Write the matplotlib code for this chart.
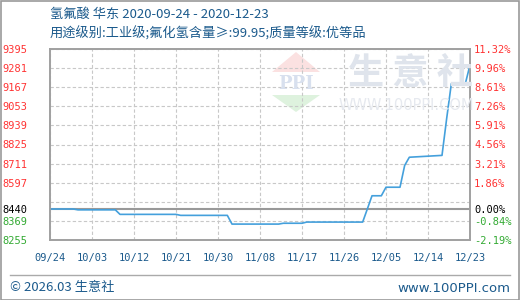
import matplotlib
matplotlib.use("Agg")
import matplotlib.pyplot as plt
import pandas as pd
from matplotlib.patches import Polygon, Rectangle
from matplotlib.lines import Line2D

plt.rcParams['font.family'] = ['Noto Sans CJK SC', 'DejaVu Sans']

# price points (change points only)
dates = ["2020-09-24", "2020-09-29", "2020-09-30", "2020-10-08", "2020-10-09",
         "2020-10-21", "2020-10-22", "2020-11-01", "2020-11-02", "2020-11-12",
         "2020-11-13", "2020-11-17", "2020-11-18", "2020-11-30", "2020-12-01",
         "2020-12-02", "2020-12-04", "2020-12-05", "2020-12-08", "2020-12-09",
         "2020-12-10", "2020-12-17", "2020-12-18", "2020-12-19", "2020-12-22",
         "2020-12-23"]
prices = [8440, 8440, 8435, 8435, 8408,
          8408, 8402, 8402, 8350, 8350,
          8355, 8355, 8362, 8362, 8440,
          8519, 8519, 8570, 8570, 8700,
          8749, 8760, 8980, 9188, 9188,
          9300]

base_price = 8440
grid_vals = [8255, 8369, 8483, 8597, 8711, 8825, 8939, 9053, 9167, 9281, 9395]
left_ticks = [8255, 8369, 8440, 8597, 8711, 8825, 8939, 9053, 9167, 9281, 9395]
left_labels = ["8255", "8369", "8440", "8597", "8711", "8825", "8939", "9053", "9167", "9281", "9395"]
right_labels = ["-2.19%", "-0.84%", "0.00%", "1.86%", "3.21%", "4.56%", "5.91%", "7.26%", "8.61%", "9.96%", "11.32%"]
x_ticks = ["2020-09-24", "2020-10-03", "2020-10-12", "2020-10-21", "2020-10-30", "2020-11-08",
           "2020-11-17", "2020-11-26", "2020-12-05", "2020-12-14", "2020-12-23"]

title1 = "氢氟酸 华东 2020-09-24 - 2020-12-23"
title2 = "用途级别:工业级;氟化氢含量≥:99.95;质量等级:优等品"

RED = "#ff3333"
GREEN = "#33aa33"
NAVY = "#1b5a8c"
LINE = "#44a0dc"

W, H = 520, 300
fig = plt.figure(figsize=(W / 100, H / 100), dpi=100)
fig.patch.set_facecolor("white")

# outer border
fig.add_artist(Rectangle((0.5 / W, 0.5 / H), 1 - 1.5 / W, 1 - 1.5 / H, transform=fig.transFigure,
                         fill=False, edgecolor="#999999", lw=1.2))

ax = fig.add_axes([50 / W, 1 - 240 / H, 420 / W, 191 / H])

# watermark
wm = "#dfe4ec"
fig.text(410 / W, 1 - 73 / H, "生 意 社", fontsize=26, color=wm, ha="center", va="center",
         fontweight="bold", zorder=0)
fig.text(406 / W, 1 - 106 / H, "WWW.100PPI.COM", fontsize=10.5, color="#e6e9ef", ha="center",
         va="center", family="DejaVu Sans", zorder=0)
fig.add_artist(Polygon([(272 / W, 1 - 72 / H), (320 / W, 1 - 72 / H), (296 / W, 1 - 52 / H)],
                       closed=True, transform=fig.transFigure, facecolor="#fbe1e1", edgecolor="none", zorder=0))
fig.add_artist(Polygon([(272 / W, 1 - 95 / H), (320 / W, 1 - 95 / H), (296 / W, 1 - 112 / H)],
                       closed=True, transform=fig.transFigure, facecolor="#def2de", edgecolor="none", zorder=0))
fig.text(296 / W, 1 - 84 / H, "PPI", fontsize=13, color="#d8e0ee", ha="center", va="center",
         fontweight="bold", family="DejaVu Serif", zorder=0)
ax.set_facecolor("none")

x = pd.to_datetime(dates)
ax.plot(x, prices, color=LINE, lw=1.2, zorder=3)

xt = pd.to_datetime(x_ticks)
ax.set_xlim(xt[0], xt[-1])
ax.set_ylim(grid_vals[0], grid_vals[-1])

for g in grid_vals:
    ax.axhline(g, color="#c8c8c8", lw=0.8, ls=(0, (3, 2)), zorder=1)
for t in xt:
    ax.axvline(t, color="#c8c8c8", lw=0.8, ls=(0, (3, 2)), zorder=1)
ax.axhline(base_price, color="#999999", lw=1.5, zorder=2)

ax.set_xticks(xt)
ax.set_xticklabels([t.strftime("%m/%d") for t in xt], color=NAVY, fontsize=7.5,
                   family="DejaVu Sans Mono")
ax.tick_params(axis="x", length=0, pad=9)

ax.set_yticks(left_ticks)
ax.set_yticklabels(left_labels, fontsize=7.5, family="DejaVu Sans Mono")
ax.tick_params(axis="y", length=0, pad=16)

ax2 = ax.twinx()
ax2.set_ylim(ax.get_ylim())
ax2.set_yticks(left_ticks)
ax2.set_yticklabels(right_labels, fontsize=7.5, family="DejaVu Sans Mono")
ax2.tick_params(axis="y", length=0, pad=3)

for v, l1, l2 in zip(left_ticks, ax.get_yticklabels(), ax2.get_yticklabels()):
    c = RED if v > base_price else ("black" if v == base_price else GREEN)
    l1.set_color(c)
    l2.set_color(c)

for a in (ax, ax2):
    for s in a.spines.values():
        s.set_color("#a0a0a0")
        s.set_linewidth(1.2)

fig.text(50 / W, 1 - 14 / H, title1, fontsize=9.5, color=NAVY, ha="left", va="center")
fig.text(50 / W, 1 - 34 / H, title2, fontsize=9.5, color=NAVY, ha="left", va="center")

# footer
fig.add_artist(Line2D([10 / W, 510 / W], [1 - 275 / H, 1 - 275 / H], transform=fig.transFigure,
                      color="#aaaaaa", lw=1))
fig.text(10 / W, 1 - 288 / H, "© 2026.03 生意社", fontsize=9.5, color=NAVY, ha="left", va="center")
fig.text(510 / W, 1 - 288 / H, "www.100PPI.com", fontsize=9.5, color=NAVY, ha="right", va="center",
         family="DejaVu Sans")

fig.savefig("out.png", dpi=100)
